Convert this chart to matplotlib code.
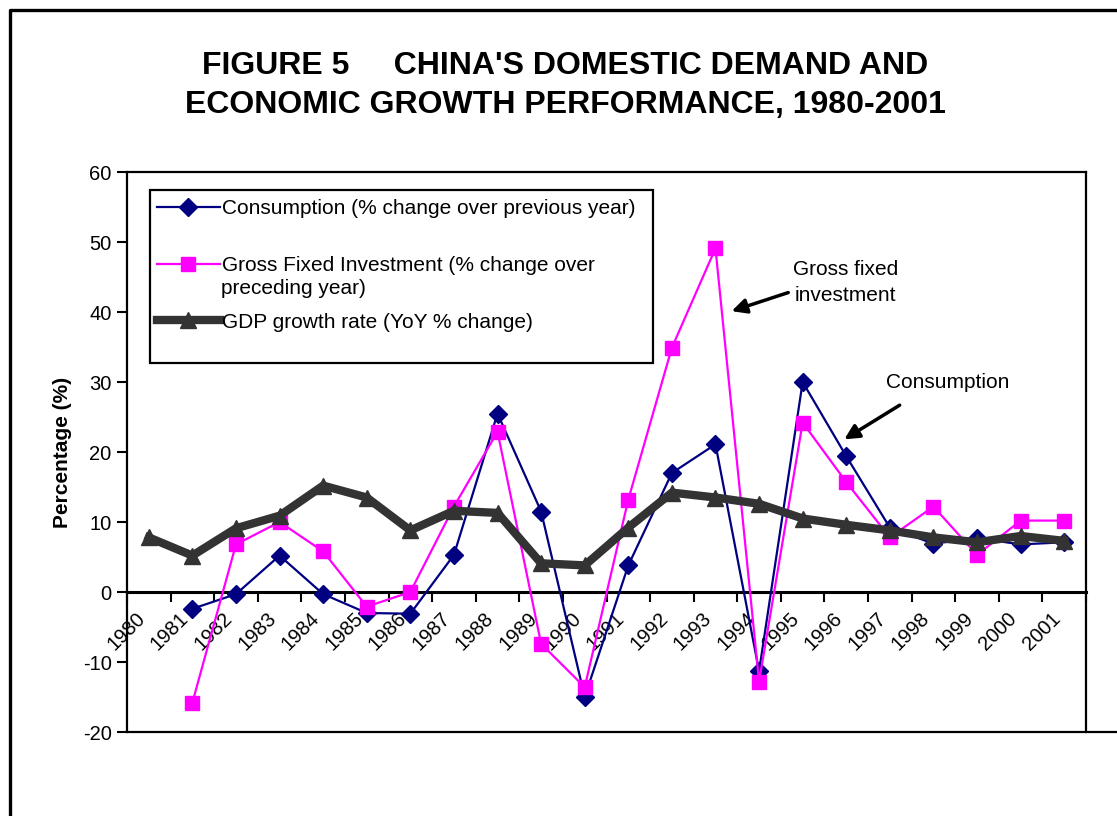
import numpy as np
import matplotlib.pyplot as plt
from matplotlib.lines import Line2D
from matplotlib.patches import Rectangle

plt.rcParams['font.family'] = ['Liberation Sans', 'DejaVu Sans']
plt.rcParams['axes.unicode_minus'] = False

years = [str(y) for y in range(1980, 2002)]
consumption = [np.nan, -2.4, -0.3, 5.2, -0.3, -3.0, -3.1, 5.3, 25.5, 11.5, -15.0,
               3.8, 17.0, 21.1, -11.3, 30.0, 19.4, 9.2, 6.9, 7.7, 6.8, 7.1]
investment = [np.nan, -15.8, 6.8, 10.0, 5.8, -2.1, 0.0, 12.2, 22.9, -7.4, -13.6,
              13.2, 34.9, 49.1, -12.8, 24.2, 15.7, 7.8, 12.2, 5.3, 10.2, 10.2]
gdp = [7.8, 5.2, 9.1, 10.9, 15.2, 13.5, 8.8, 11.6, 11.3, 4.1, 3.8,
       9.2, 14.2, 13.5, 12.6, 10.5, 9.6, 8.8, 7.8, 7.1, 8.0, 7.3]

W, H = 1117, 816
fig = plt.figure(figsize=(W / 100, H / 100), dpi=100)
ax = fig.add_axes([127 / W, 1 - 732 / H, (1086 - 127) / W, (732 - 172) / H])

x = np.arange(len(years))
ax.plot(x, consumption, color='#000080', lw=1.6, marker='D', ms=9,
        label='Consumption (% change over previous year)', zorder=3)
ax.plot(x, investment, color='#FF00FF', lw=1.6, marker='s', ms=10,
        label='Gross Fixed Investment (% change over', zorder=3)
ax.plot(x, gdp, color='#333333', lw=6, marker='^', ms=12,
        label='GDP growth rate (YoY % change)', zorder=4)

ax.set_xlim(-0.5, len(years) - 0.5)
ax.set_ylim(-20, 60)
ax.set_yticks(range(-20, 61, 10))

# category axis crosses at zero, tick marks between categories
ax.spines['bottom'].set_position(('data', 0))
ax.spines['bottom'].set_linewidth(2.2)
for s in ['left', 'top', 'right']:
    ax.spines[s].set_linewidth(1.6)
ax.set_xticks(np.arange(-0.5, len(years)), labels=[])
ax.set_xticks(x, labels=years, minor=True)
ax.tick_params(axis='x', which='major', length=7, width=1.5, direction='out')
ax.tick_params(axis='x', which='minor', length=0, pad=12, labelsize=14.5,
               labelrotation=45)
for lab in ax.get_xticklabels(minor=True):
    lab.set_ha('right')
    lab.set_va('top')
ax.tick_params(axis='y', length=7, width=1.5, labelsize=14.5, pad=4)

# black line closing the plot panel at the bottom
ax.add_artist(Line2D([127 / W, 1], [1 - 732 / H, 1 - 732 / H], transform=fig.transFigure,
                     color='black', lw=1.6, clip_on=False))

ax.set_ylabel('Percentage (%)', fontsize=15, fontweight='bold', labelpad=8)

# legend box
ax.add_patch(Rectangle((150 / W, 1 - 363 / H), (653 - 150) / W, (363 - 190) / H,
                       transform=fig.transFigure, facecolor='white',
                       edgecolor='black', lw=1.6, zorder=5, clip_on=False))
leg = ax.legend(loc='upper left', bbox_to_anchor=(153 / W, 1 - 195 / H),
                bbox_transform=fig.transFigure, frameon=False, fontsize=15,
                handlelength=3.0, handletextpad=0.1, labelspacing=1.81,
                borderaxespad=0, borderpad=0.2)
leg.set_zorder(6)
# wrapped second line of the investment label
fig.text(221 / W, 1 - 288 / H, 'preceding year)', fontsize=15, ha='left', va='center',
         zorder=7)

# annotations
ax.annotate('', xy=(13.31, 40.0), xytext=(14.73, 42.9),
            arrowprops=dict(arrowstyle='-|>', color='black', lw=2.5, mutation_scale=22))
ax.text(15.99, 44.2, 'Gross fixed\ninvestment', fontsize=15, ha='center', va='center',
        linespacing=1.45)
ax.annotate('', xy=(15.90, 21.6), xytext=(17.28, 26.9),
            arrowprops=dict(arrowstyle='-|>', color='black', lw=2.5, mutation_scale=22))
ax.text(18.33, 30.0, 'Consumption', fontsize=15, ha='center', va='center')

fig.text(565 / W, 1 - 66 / H, "FIGURE 5     CHINA'S DOMESTIC DEMAND AND",
         ha='center', va='center', fontsize=23, fontweight='bold')
fig.text(565 / W, 1 - 105 / H, 'ECONOMIC GROWTH PERFORMANCE, 1980-2001',
         ha='center', va='center', fontsize=23, fontweight='bold')

# outer page frame (left and top edges visible)
fig.add_artist(Line2D([10 / W, 10 / W, 1], [0, 1 - 10 / H, 1 - 10 / H],
                      transform=fig.transFigure, color='black', lw=2.4))

fig.savefig('out.png', dpi=100)
